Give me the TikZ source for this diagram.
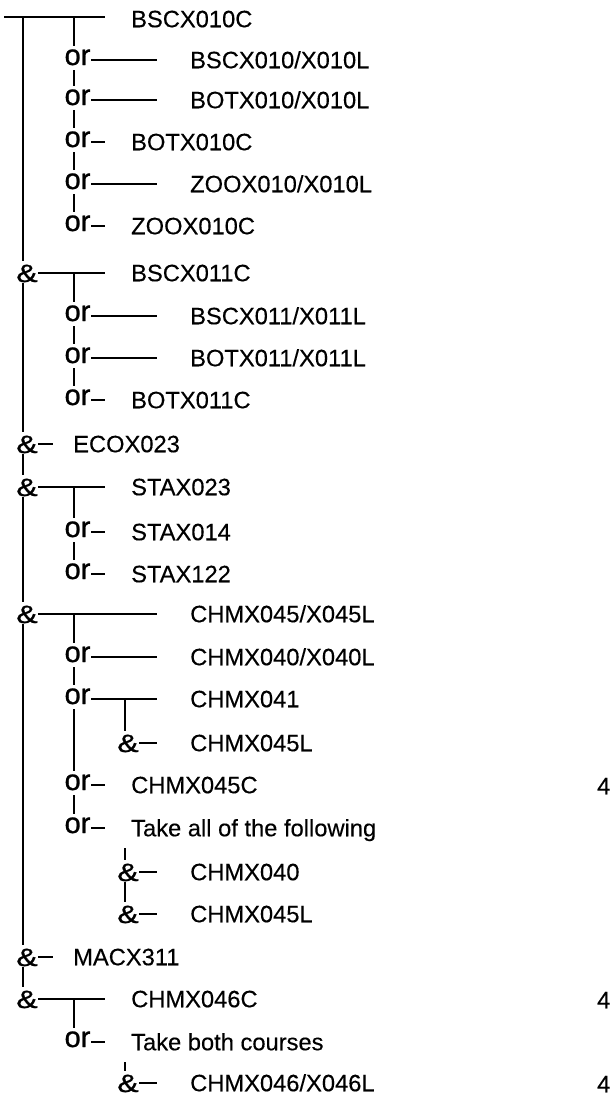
\documentclass[tikz,border=0pt]{standalone}
\usepackage{fontspec}
\setmainfont{Liberation Sans}[FakeBold=0.3]
\newfontfamily\glyphfont{Liberation Sans}[FakeBold=0.9]
\begin{document}
\begin{tikzpicture}[x=1pt,y=-1pt,
  lbl/.style={font=\fontsize{23.7}{28}\selectfont, anchor=west, inner sep=0pt, text height=16.5pt, text depth=0pt},
  orn/.style={font=\glyphfont\fontsize{29}{32}\selectfont, anchor=base, inner xsep=0.5pt, inner ysep=0pt, text height=19pt, text depth=5pt},
  ampn/.style={font=\glyphfont\fontsize{25}{30}\selectfont, anchor=base, inner xsep=0pt, inner ysep=0pt, text height=21pt, text depth=1pt},
  ln/.style={line width=1.9pt}]
\useasboundingbox (0,0) rectangle (615,1101);
\newcommand{\amp}{\scalebox{1.28}[1]{\&}}
% coordinates
\coordinate (top) at (4,17);
\coordinate (M) at (23,17);
\coordinate (L1) at (74,17);
\coordinate (v7) at (74,273);
\coordinate (v12) at (74,487);
\coordinate (v15) at (74,614);
\coordinate (v17) at (125,699);
\coordinate (v20) at (125,848);
\coordinate (v24) at (74,999);
\coordinate (v25) at (125,1062);
% texts
\node[lbl] (t1) at (131,19) {BSCX010C};
\node[orn] (o2) at (77.5,65) {or};   \node[lbl] (t2) at (190,60) {BSCX010/X010L};
\node[orn] (o3) at (77.5,105) {or};  \node[lbl] (t3) at (190,100) {BOTX010/X010L};
\node[orn] (o4) at (77.5,147) {or};  \node[lbl] (t4) at (131,142) {BOTX010C};
\node[orn] (o5) at (77.5,189) {or};  \node[lbl] (t5) at (190,184) {ZOOX010/X010L};
\node[orn] (o6) at (77.5,231) {or};  \node[lbl] (t6) at (131,226) {ZOOX010C};
\node[ampn] (a7) at (27,282) {\amp}; \node[lbl] (t7) at (131,273) {BSCX011C};
\node[orn] (o8) at (77.5,321) {or};  \node[lbl] (t8) at (190,316) {BSCX011/X011L};
\node[orn] (o9) at (77.5,363) {or};  \node[lbl] (t9) at (190,358) {BOTX011/X011L};
\node[orn] (o10) at (77.5,405) {or}; \node[lbl] (t10) at (131,400) {BOTX011C};
\node[ampn] (a11) at (27,453) {\amp}; \node[lbl] (t11) at (73,444) {ECOX023};
\node[ampn] (a12) at (27,496) {\amp}; \node[lbl] (t12) at (131,487) {STAX023};
\node[orn] (o13) at (77.5,537) {or}; \node[lbl] (t13) at (131,532) {STAX014};
\node[orn] (o14) at (77.5,579) {or}; \node[lbl] (t14) at (131,574) {STAX122};
\node[ampn] (a15) at (27,623) {\amp}; \node[lbl] (t15) at (190,614) {CHMX045/X045L};
\node[orn] (o16) at (77.5,662) {or}; \node[lbl] (t16) at (190,657) {CHMX040/X040L};
\node[orn] (o17) at (77.5,704) {or}; \node[lbl] (t17) at (190,699) {CHMX041};
\node[ampn] (b18) at (128,752) {\amp}; \node[lbl] (t18) at (190,743) {CHMX045L};
\node[orn] (o19) at (77.5,790) {or}; \node[lbl] (t19) at (131,785) {CHMX045C};
\node[lbl] (n19) at (597,786) {4};
\node[orn] (o20) at (77.5,833) {or}; \node[lbl] (t20) at (131,828) {Take all of the following};
\node[ampn] (b21) at (128,881) {\amp}; \node[lbl] (t21) at (190,872) {CHMX040};
\node[ampn] (b22) at (128,923) {\amp}; \node[lbl] (t22) at (190,914) {CHMX045L};
\node[ampn] (a23) at (27,966) {\amp}; \node[lbl] (t23) at (73,957) {MACX311};
\node[ampn] (a24) at (27,1008) {\amp}; \node[lbl] (t24) at (131,999) {CHMX046C};
\node[lbl] (n24) at (597,1000) {4};
\node[orn] (o25) at (77.5,1047) {or}; \node[lbl] (t25) at (131,1042) {Take both courses};
\node[ampn] (b26) at (128,1092) {\amp}; \node[lbl] (t26) at (190,1083) {CHMX046/X046L};
\node[lbl] (n26) at (597,1084) {4};
% main vertical
\draw[ln] (M) -- (a7.north -| M);
\draw[ln] (a7.south -| M) -- (a11.north -| M);
\draw[ln] (a11.south -| M) -- (a12.north -| M);
\draw[ln] (a12.south -| M) -- (a15.north -| M);
\draw[ln] (a15.south -| M) -- (a23.north -| M);
\draw[ln] (a23.south -| M) -- (a24.north -| M);
% level-1 verticals
\draw[ln] (L1) -- (o2.north -| L1);
\draw[ln] (o2.south -| L1) -- (o3.north -| L1);
\draw[ln] (o3.south -| L1) -- (o4.north -| L1);
\draw[ln] (o4.south -| L1) -- (o5.north -| L1);
\draw[ln] (o5.south -| L1) -- (o6.north -| L1);
\draw[ln] (v7) -- (o8.north -| v7);
\draw[ln] (o8.south -| v7) -- (o9.north -| v7);
\draw[ln] (o9.south -| v7) -- (o10.north -| v7);
\draw[ln] (v12) -- (o13.north -| v12);
\draw[ln] (o13.south -| v12) -- (o14.north -| v12);
\draw[ln] (v15) -- (o16.north -| v15);
\draw[ln] (o16.south -| v15) -- (o17.north -| v15);
\draw[ln] (o17.south -| v15) -- (o19.north -| v15);
\draw[ln] (o19.south -| v15) -- (o20.north -| v15);
\draw[ln] (v24) -- (o25.north -| v24);
% level-2 verticals
\draw[ln] (v17) -- (b18.north -| v17);
\draw[ln] (v20) -- (b21.north -| v20);
\draw[ln] (b21.south -| v20) -- (b22.north -| v20);
\draw[ln] (v25) -- (b26.north -| v25);
% horizontals
\draw[ln] (top) -- ([xshift=-26pt]t1.west |- top);
\draw[ln] (o2.east |- t2.west) -- ([xshift=-33pt]t2.west);
\draw[ln] (o3.east |- t3.west) -- ([xshift=-33pt]t3.west);
\draw[ln] (o4.east |- t4.west) -- ([xshift=-26pt]t4.west);
\draw[ln] (o5.east |- t5.west) -- ([xshift=-33pt]t5.west);
\draw[ln] (o6.east |- t6.west) -- ([xshift=-26pt]t6.west);
\draw[ln] (a7.east |- t7.west) -- ([xshift=-26pt]t7.west);
\draw[ln] (o8.east |- t8.west) -- ([xshift=-33pt]t8.west);
\draw[ln] (o9.east |- t9.west) -- ([xshift=-33pt]t9.west);
\draw[ln] (o10.east |- t10.west) -- ([xshift=-26pt]t10.west);
\draw[ln] (a11.east |- t11.west) -- ([xshift=-20pt]t11.west);
\draw[ln] (a12.east |- t12.west) -- ([xshift=-26pt]t12.west);
\draw[ln] (o13.east |- t13.west) -- ([xshift=-26pt]t13.west);
\draw[ln] (o14.east |- t14.west) -- ([xshift=-26pt]t14.west);
\draw[ln] (a15.east |- t15.west) -- ([xshift=-33pt]t15.west);
\draw[ln] (o16.east |- t16.west) -- ([xshift=-33pt]t16.west);
\draw[ln] (o17.east |- t17.west) -- ([xshift=-33pt]t17.west);
\draw[ln] (b18.east |- t18.west) -- ([xshift=-33pt]t18.west);
\draw[ln] (o19.east |- t19.west) -- ([xshift=-26pt]t19.west);
\draw[ln] (o20.east |- t20.west) -- ([xshift=-26pt]t20.west);
\draw[ln] (b21.east |- t21.west) -- ([xshift=-33pt]t21.west);
\draw[ln] (b22.east |- t22.west) -- ([xshift=-33pt]t22.west);
\draw[ln] (a23.east |- t23.west) -- ([xshift=-20pt]t23.west);
\draw[ln] (a24.east |- t24.west) -- ([xshift=-26pt]t24.west);
\draw[ln] (o25.east |- t25.west) -- ([xshift=-26pt]t25.west);
\draw[ln] (b26.east |- t26.west) -- ([xshift=-33pt]t26.west);
\end{tikzpicture}
\end{document}
